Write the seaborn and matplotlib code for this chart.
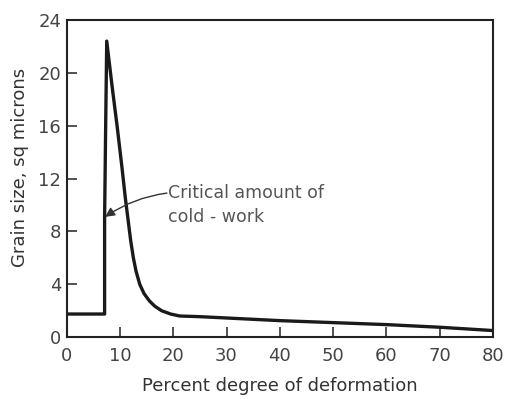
import matplotlib
matplotlib.use("Agg")
import matplotlib.pyplot as plt
import seaborn as sns
import pandas as pd

# Data
deformation = [0, 7.1, 7.1, 7.3, 7.5, 8.5, 9.5, 10.4, 11.0, 11.5, 12.0, 12.5, 13.0, 13.7, 14.5, 15.5, 16.5, 17.8, 19.5, 21.2, 25, 30, 40, 50, 60, 70, 80]
grain_size = [1.75, 1.75, 9.0, 16.0, 22.4, 19.0, 15.8, 12.7, 10.5, 8.9, 7.3, 6.0, 5.0, 4.0, 3.3, 2.75, 2.35, 2.0, 1.75, 1.6, 1.55, 1.45, 1.25, 1.1, 0.95, 0.75, 0.5]
x_ticks = [0, 10, 20, 30, 40, 50, 60, 70, 80]
y_ticks = [0, 4, 8, 12, 16, 20, 24]

df = pd.DataFrame({"deformation": deformation, "grain": grain_size})

sns.set_style("ticks")
plt.rcParams["font.family"] = ["DejaVu Sans"]

fig = plt.figure(figsize=(5.06, 3.99), dpi=100)
ax = fig.add_axes([0.132, 0.155, 0.842, 0.795])

sns.lineplot(data=df, x="deformation", y="grain", ax=ax, color="#1a1a1a",
             linewidth=2.4, sort=False, estimator=None)

ax.set_xlim(0, 80)
ax.set_ylim(0, 24)
ax.set_xticks(x_ticks)
ax.set_yticks(y_ticks)
ax.tick_params(direction="in", length=7, width=1.2, labelsize=13,
               colors="#333333", labelcolor="#444444")
ax.tick_params(axis="y", pad=4)
ax.tick_params(axis="x", pad=7)
for s in ax.spines.values():
    s.set_linewidth(1.5)
    s.set_color("#222222")

ax.set_xlabel("Percent degree of deformation", fontsize=13, color="#333333", labelpad=9)
ax.set_ylabel("Grain size, sq microns", fontsize=13, color="#333333", labelpad=8)
ax.yaxis.set_label_coords(-0.088, 0.535)

ax.text(19.0, 10.0, "Critical amount of\ncold - work", fontsize=12.5,
        color="#555555", va="center", ha="left", linespacing=1.45)
ax.annotate("", xy=(7.2, 9.1), xytext=(18.8, 10.9),
            arrowprops=dict(arrowstyle="-|>", color="#333333", lw=1.0,
                            connectionstyle="arc3,rad=0.12",
                            shrinkA=0, shrinkB=0, mutation_scale=14))

fig.savefig("out.png", dpi=100)
